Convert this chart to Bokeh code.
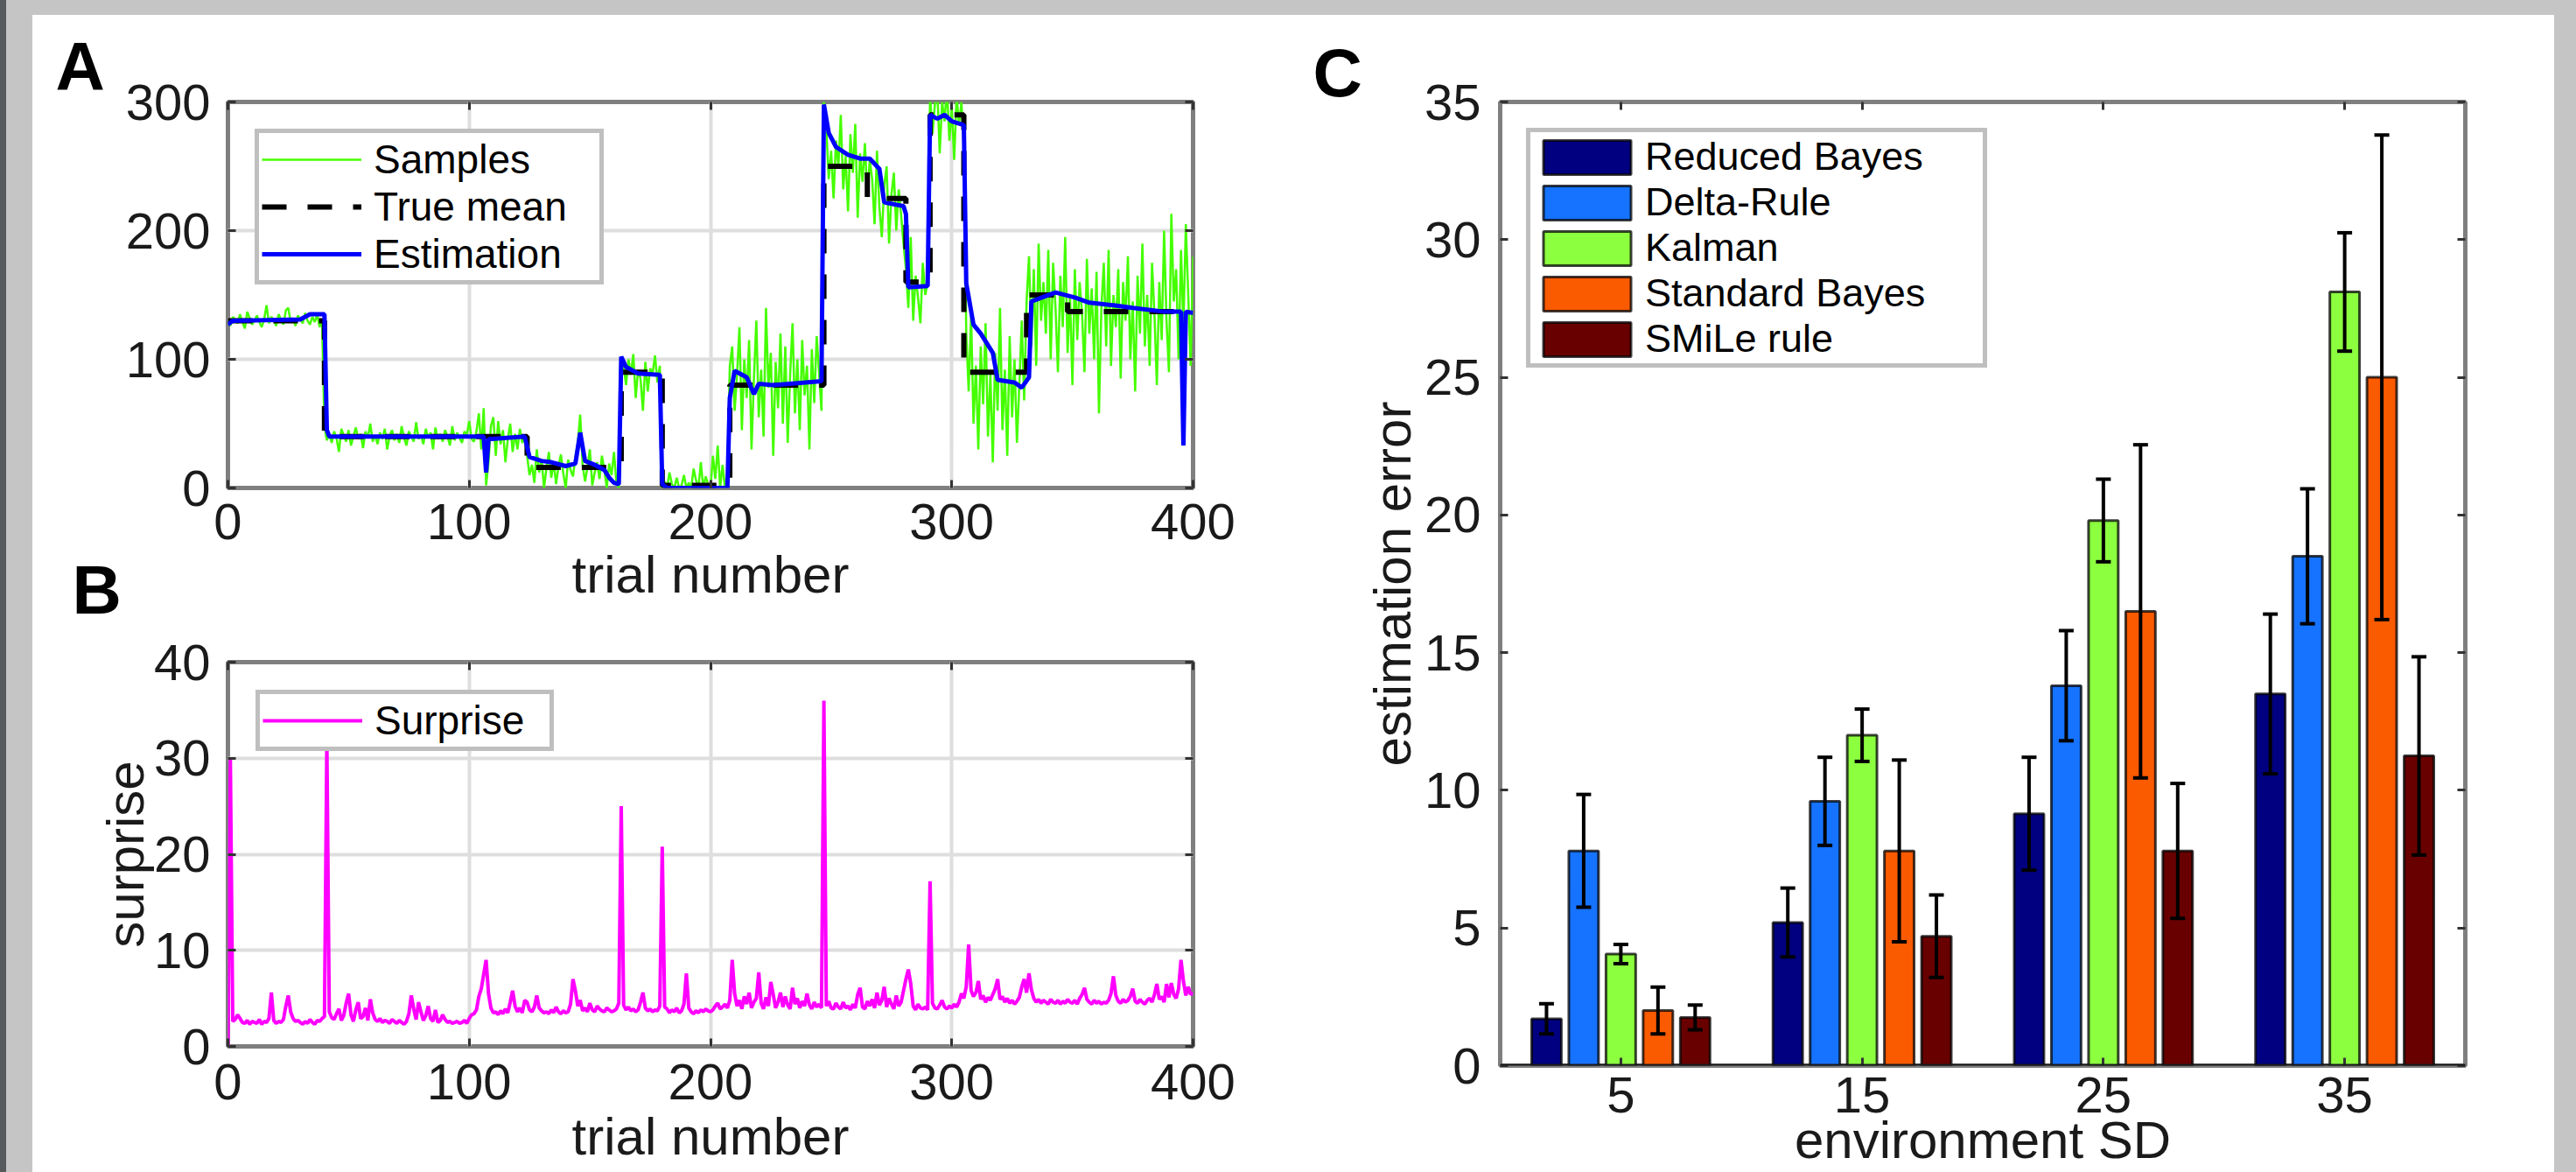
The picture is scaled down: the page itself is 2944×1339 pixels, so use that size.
from bokeh.plotting import figure
from bokeh.models import (Range1d, FixedTicker, LinearAxis, Label, Whisker, TeeHead,
                          ColumnDataSource, Span, CustomJSTickFormatter)
from bokeh.layouts import row, column
from bokeh.embed import file_html
from bokeh.resources import INLINE

FONT = "Liberation Sans"

# ---------------- Panel A data ----------------
samples = [
    130,126,133,131,128,135,129,124,137,132,127,130,134,129,125,131,142,128,133,130,
    126,135,131,127,138,140,129,132,126,134,131,128,136,130,127,133,129,135,125,131,
    48,37,42,35,44,39,28,46,41,36,45,33,40,47,38,42,31,44,39,50,
    36,41,34,43,38,46,30,40,45,37,42,35,48,39,33,44,40,36,51,38,
    41,34,46,39,43,30,47,38,42,36,45,40,33,48,37,43,39,35,44,41,
    52,38,36,44,
    58,30,62,2,20,48,55,25,52,34,45,20,38,50,28,42,30,46,35,40,
    25,10,18,4,30,12,22,0,15,28,8,20,3,17,26,11,0,22,14,9,
    24,35,57,18,5,16,30,2,12,20,7,25,14,0,19,10,28,4,0,
    102,95,80,100,88,104,70,92,85,60,98,75,93,89,103,82,95,
    0,5,0,12,3,0,8,0,2,10,0,4,0,15,6,0,20,0,9,3,0,25,7,33,0,18,0,10,
    95,110,60,88,125,45,100,70,115,30,85,130,55,92,40,140,78,105,25,98,
    62,120,50,110,35,88,128,58,100,45,115,72,95,30,108,66,118,90,60,
    300,280,240,262,225,270,250,290,232,258,215,275,245,283,210,260,238,268,226,255,
    240,205,262,218,195,235,250,190,228,245,200,232,212,190,
    170,140,195,130,165,148,128,175,150,160,
    305,275,298,310,260,300,285,312,270,296,255,305,282,300,265,
    120,75,135,50,95,30,110,65,128,40,88,20,105,60,140,45,92,25,118,55,100,35,80,130,68,
    145,180,110,170,95,190,130,160,120,185,100,175,140,90,165,125,195,105,150,80,
    170,115,160,135,90,178,120,155,100,168,58,140,175,110,185,95,150,125,170,85,
    160,130,180,100,145,75,165,120,190,110,150,95,175,135,80,160,115,200,130,90,
    213,145,170,100,185,125,205,150,95,180,
]
trials = list(range(len(samples)))

mean_bounds = [0, 40, 124, 163, 180, 208, 247, 265, 281, 291, 305, 331, 348, 400]
mean_levels = [130, 40, 16, 90, 2, 80, 250, 225, 160, 290, 90, 150, 137]

est_trials = [0, 2, 30, 34, 40, 41, 42, 106, 107, 108, 123, 125, 130, 134, 140, 144, 146,
              148, 152, 156, 158, 160, 162, 163, 165, 170, 179, 180, 182, 207, 208, 210,
              215, 218, 220, 226, 246, 247, 249, 252, 257, 262, 266, 270, 272, 280, 281,
              282, 290, 291, 294, 297, 300, 305, 306, 309, 312, 317, 319, 326, 329, 332,
              333, 343, 351, 357, 367, 375, 388, 395, 396, 397, 400]
est_values = [127, 130, 131, 135, 135, 45, 40, 40, 12, 38, 40, 24, 21, 20, 17, 19, 43,
              21, 18, 14, 8, 4, 3, 102, 94, 89, 88, 3, 0, 0, 70, 91,
              86, 73, 81, 80, 83, 298, 276, 265, 259, 256, 256, 248, 222, 219, 213,
              156, 157, 290, 287, 290, 285, 282, 159, 127, 120, 105, 84, 82, 78, 86,
              145, 152, 148, 144, 142, 140, 137, 137, 33, 137, 136]

# ---------------- Panel B data ----------------
surprise = [
    0,30,2.6,2.8,3.3,2.9,2.5,2.4,2.7,2.3,2.6,2.5,2.4,2.8,2.3,2.6,2.5,2.9,5.6,2.7,
    2.4,2.6,2.5,2.8,4.2,5.3,3.6,2.9,2.6,2.7,2.5,2.3,2.6,2.4,2.8,2.5,2.3,2.7,2.6,2.9,
    3.1,32,3.6,3.0,2.8,3.4,3.9,2.7,3.2,4.5,5.5,3.3,2.6,3.8,4.6,2.9,3.1,4.0,2.7,4.9,
    3.5,2.8,2.6,2.9,2.5,2.7,2.6,2.4,2.8,2.6,2.4,2.7,2.5,2.3,2.6,3.4,5.3,3.9,2.8,4.6,
    3.6,2.7,3.2,4.2,2.9,2.6,3.8,2.5,2.7,3.3,2.8,2.5,2.6,2.4,2.5,2.6,2.4,2.5,2.7,2.4,
    2.9,3.3,3.4,3.8,5.2,6.0,7.5,9.0,5.5,4.0,3.5,3.6,3.3,3.7,3.4,3.9,3.5,4.6,5.8,4.2,
    3.6,4.0,3.5,4.8,4.6,3.8,3.6,4.1,5.3,4.0,3.7,3.5,3.6,3.4,3.8,3.5,4.1,3.6,3.4,3.7,
    3.5,3.6,4.4,7.0,5.8,4.2,4.8,3.7,4.0,3.6,4.5,3.8,3.6,4.2,3.9,3.7,3.6,4.0,3.8,3.6,
    3.7,3.9,4.5,25,4.3,3.8,4.1,3.7,3.9,3.6,3.8,4.6,5.6,4.0,3.7,3.9,3.6,3.8,3.7,4.2,
    20.8,4.1,3.9,3.5,3.8,3.6,4.0,3.5,3.7,4.4,7.6,4.0,3.6,3.4,3.7,3.5,3.8,3.6,3.9,3.7,
    3.6,3.8,4.2,4.5,3.9,4.1,4.4,4.0,4.8,9.0,5.5,4.2,4.8,3.9,5.2,4.4,5.6,4.0,4.6,5.0,
    7.7,4.5,3.9,5.1,4.2,6.7,5.4,4.0,4.6,5.6,4.1,5.2,4.3,3.9,6.1,4.4,5.0,4.0,4.7,4.2,
    5.5,4.3,3.9,4.6,4.1,4.4,4.0,36,4.2,4.7,4.0,3.9,4.5,4.1,3.9,4.6,4.0,4.2,3.8,4.4,
    4.0,5.4,6.1,4.1,3.9,4.7,4.2,4.9,4.0,5.6,4.3,4.8,6.2,4.1,5.0,4.4,3.9,5.3,4.2,4.6,
    5.8,7.0,8.0,6.5,4.2,3.8,4.4,4.0,3.9,4.1,3.8,17.2,4.5,4.0,3.9,4.3,4.8,4.1,3.9,4.2,
    4.0,4.4,4.1,4.6,5.5,5.0,6.2,10.6,5.8,5.2,5.6,6.8,4.9,5.3,4.6,5.1,4.8,5.4,6.0,7.0,
    4.9,5.2,4.6,5.0,4.5,4.8,4.4,4.7,5.1,6.2,7.0,5.6,7.6,5.9,5.0,4.6,4.9,4.5,4.8,4.6,
    4.4,4.9,4.6,4.5,4.8,4.4,4.7,4.5,4.9,4.6,4.5,4.8,4.4,5.0,5.4,6.1,4.9,4.6,4.4,4.8,
    4.5,4.7,4.4,4.6,4.5,4.8,5.5,7.3,5.3,4.7,4.5,4.9,4.6,4.8,5.2,6.0,4.7,4.5,4.9,4.6,
    4.4,4.8,5.0,4.6,5.4,6.5,4.9,5.2,4.6,6.5,5.1,6.6,5.4,5.0,6.0,9.0,6.8,5.3,6.2,5.4,
    5.6,
]
assert len(samples) == 401 and len(surprise) == 401

# ---------------- Panel C data ----------------
sd_labels = ["5", "15", "25", "35"]
model_names = ["Reduced Bayes", "Delta-Rule", "Kalman", "Standard Bayes", "SMiLe rule"]
err_reduced = [1.7, 5.2, 9.15, 13.5]
err_delta = [7.8, 9.6, 13.8, 18.5]
err_kalman = [4.05, 12.0, 19.8, 28.1]
err_standard = [2.0, 7.8, 16.5, 25.0]
err_smile = [1.75, 4.7, 7.8, 11.25]
sem_reduced = [0.55, 1.25, 2.05, 2.9]
sem_delta = [2.05, 1.6, 2.0, 2.45]
sem_kalman = [0.35, 0.95, 1.5, 2.15]
sem_standard = [0.85, 3.3, 6.05, 8.8]
sem_smile = [0.45, 1.5, 2.45, 3.6]
model_colors = ["#000080", "#1673ff", "#8cff3f", "#fa5a00", "#690000"]

# ---------------- helpers ----------------
FRAME_GRAY = "#7f7f7f"
TEXT = "#1a1a1a"
LETTER_SHIFT = 33   # side-panel labels render this much lower than the anchor


def make_fig(width, height, xr, yr, left, right, top, bottom):
    p = figure(width=width, height=height, x_range=Range1d(*xr), y_range=Range1d(*yr),
               output_backend="svg", toolbar_location=None,
               min_border_left=left, min_border_right=right,
               min_border_top=top, min_border_bottom=bottom)
    p.background_fill_color = "white"
    p.border_fill_color = "white"
    p.outline_line_color = FRAME_GRAY
    p.outline_line_width = 5
    return p


def style_axis(ax, ticks, standoff, label_standoff=0):
    ax.ticker = FixedTicker(ticks=ticks)
    ax.axis_line_color = None
    ax.major_tick_in = 9
    ax.major_tick_out = 0
    ax.major_tick_line_color = "#333333"
    ax.major_tick_line_width = 3
    ax.minor_tick_line_color = None
    ax.major_label_text_font = FONT
    ax.major_label_text_font_size = "58px"
    ax.major_label_text_color = TEXT
    ax.major_label_standoff = standoff
    ax.axis_label_text_font = FONT
    ax.axis_label_text_font_style = "normal"
    ax.axis_label_text_font_size = "60px"
    ax.axis_label_text_color = TEXT
    ax.axis_label_standoff = label_standoff


def add_mirror(p, ticks, side):
    ax = LinearAxis(ticker=FixedTicker(ticks=ticks),
                    formatter=CustomJSTickFormatter(code="return ''"))
    ax.axis_line_color = None
    ax.major_tick_in = 9
    ax.major_tick_out = 0
    ax.major_tick_line_color = "#333333"
    ax.major_tick_line_width = 3
    ax.minor_tick_line_color = None
    ax.major_label_text_font_size = "1px"
    ax.major_label_standoff = 0
    p.add_layout(ax, side)


def style_grid(p, xticks, yticks):
    p.xgrid.ticker = FixedTicker(ticks=xticks)
    p.ygrid.ticker = FixedTicker(ticks=yticks)
    for g in (p.xgrid, p.ygrid):
        g.grid_line_color = "#dedede"
        g.grid_line_width = 4


def style_legend(leg, font_px, glyph_w, glyph_h, padding, standoff, margin, label_w):
    leg.location = "top_left"
    leg.margin = margin
    leg.padding = padding
    leg.spacing = 0
    leg.glyph_width = glyph_w
    leg.glyph_height = glyph_h
    leg.label_standoff = standoff
    leg.label_width = label_w
    leg.label_text_font = FONT
    leg.label_text_font_size = f"{font_px}px"
    leg.label_text_color = "black"
    leg.border_line_color = FRAME_GRAY
    leg.border_line_width = 5
    leg.background_fill_color = "white"
    leg.background_fill_alpha = 1.0


def to_data(px, py, frame, xr, yr):
    fl, ft, fw, fh = frame
    x = xr[0] + (px - fl) / fw * (xr[1] - xr[0])
    y = yr[1] - (py - ft) / fh * (yr[1] - yr[0])
    return x, y


def panel_letter(p, side, text, px, py, frame, xr, yr):
    x, y = to_data(px, py - LETTER_SHIFT, frame, xr, yr)
    p.add_layout(Label(x=x, y=y, text=text, text_font=FONT, text_font_size="78px",
                       text_font_style="bold", text_color="black",
                       text_align="left", text_baseline="alphabetic"), side)


# ---------------- Panel A ----------------
XR = (0, 400)
YA = (0, 300)
WL, HA = 1440, 706
HB = 1322 - HA
frameA = (223, 99, 1103, 441)
pA = make_fig(WL, HA, XR, YA, 223, WL - 1326, 99, HA - 540)
style_grid(pA, [100, 200, 300], [100, 200])
style_axis(pA.xaxis[0], [0, 100, 200, 300, 400], 18, 4)
style_axis(pA.yaxis[0], [0, 100, 200, 300], 20)
pA.xaxis.axis_label = "trial number"
add_mirror(pA, [0, 100, 200, 300, 400], "above")
add_mirror(pA, [0, 100, 200, 300], "right")

mean_x, mean_y = [], []
for i, lev in enumerate(mean_levels):
    mean_x += [mean_bounds[i], mean_bounds[i + 1]]
    mean_y += [lev, lev]

pA.line(trials, samples, line_color="#44ff00", line_width=2.5, legend_label="Samples")
pA.line(mean_x, mean_y, line_color="black", line_width=6, line_dash="28 24",
        legend_label="True mean")
pA.line(est_trials, est_values, line_color="#0000ff", line_width=5, legend_label="Estimation")
style_legend(pA.legend[0], 46, 114, 52, 3, 14, 31, 255)
panel_letter(pA, "above", "A", 26, 91, frameA, XR, YA)
panel_letter(pA, "left", "B", 45, 689, frameA, XR, YA)

# ---------------- Panel B ----------------
YB = (0, 40)
pB = make_fig(WL, HB, XR, YB, 223, WL - 1326, 739 - HA, 1322 - 1178)
style_grid(pB, [100, 200, 300], [10, 20, 30])
style_axis(pB.xaxis[0], [0, 100, 200, 300, 400], 20, 6)
style_axis(pB.yaxis[0], [0, 10, 20, 30, 40], 20, -4)
pB.xaxis.axis_label = "trial number"
pB.yaxis.axis_label = "surprise"
add_mirror(pB, [0, 100, 200, 300, 400], "above")
add_mirror(pB, [0, 10, 20, 30, 40], "right")
pB.line(trials, surprise, line_color="#ff00ff", line_width=4, legend_label="Surprise")
style_legend(pB.legend[0], 46, 114, 52, 3, 14, 32, 197)

# ---------------- Panel C ----------------
XC = (0.5, 4.5)
YC = (0, 35)
WC, HC = 1442, 1322
frameC = (237, 99, 1103, 1101)
pC = make_fig(WC, HC, XC, YC, 237, WC - 1340, 99, HC - 1200)
pC.xgrid.visible = False
pC.ygrid.visible = False
group_pos = [i + 1 for i in range(len(sd_labels))]
style_axis(pC.xaxis[0], group_pos, 13, -5)
pC.xaxis[0].major_label_overrides = {g: lab for g, lab in zip(group_pos, sd_labels)}
pC.xaxis.axis_label = "environment SD"
style_axis(pC.yaxis[0], [0, 5, 10, 15, 20, 25, 30, 35], 22, 0)
pC.yaxis.axis_label = "estimation error"
add_mirror(pC, group_pos, "above")
add_mirror(pC, [0, 5, 10, 15, 20, 25, 30, 35], "right")

all_means = [err_reduced, err_delta, err_kalman, err_standard, err_smile]
all_sems = [sem_reduced, sem_delta, sem_kalman, sem_standard, sem_smile]
step = 0.154
n = len(model_names)
whiskers = []
for i, (name, means, sems, col) in enumerate(zip(model_names, all_means, all_sems, model_colors)):
    off = (i - (n - 1) / 2) * step
    src = ColumnDataSource(dict(
        x=[g + off for g in group_pos],
        top=means,
        upper=[m + s for m, s in zip(means, sems)],
        lower=[m - s for m, s in zip(means, sems)],
    ))
    pC.vbar(x="x", top="top", bottom=0, width=0.123, source=src, fill_color=col,
            line_color="black", line_alpha=0.75, line_width=3, legend_label=name)
    whiskers.append(Whisker(source=src, base="x", upper="upper", lower="lower",
                            line_color="black", line_width=4, level="overlay",
                            upper_head=TeeHead(size=17, line_width=4, line_color="black"),
                            lower_head=TeeHead(size=17, line_width=4, line_color="black")))
pC.add_layout(Span(location=0, dimension="width", line_color="#1a1a1a", line_width=4))
for w in whiskers:
    pC.add_layout(w)
style_legend(pC.legend[0], 45, 125, 49, 2, 4, 30, 384)
panel_letter(pC, "above", "C", 23, 98, frameC, XC, YC)

left_col = column(pA, pB, styles={"background-color": "white"})
layout = row(left_col, pC, styles={"background-color": "white"})

TEMPLATE = """
{% block preamble %}
<style>
html { background: linear-gradient(to right, #575a5d 0px, #575a5d 7px, #c4c5c4 7px) !important; overflow: hidden !important; }
body { margin: 0 !important; padding: 17px 0 0 37px !important; height: auto !important; overflow: hidden !important; background: transparent !important; }
</style>
{% endblock %}
"""

open("out.html", "w").write(file_html(layout, INLINE, template=TEMPLATE))
